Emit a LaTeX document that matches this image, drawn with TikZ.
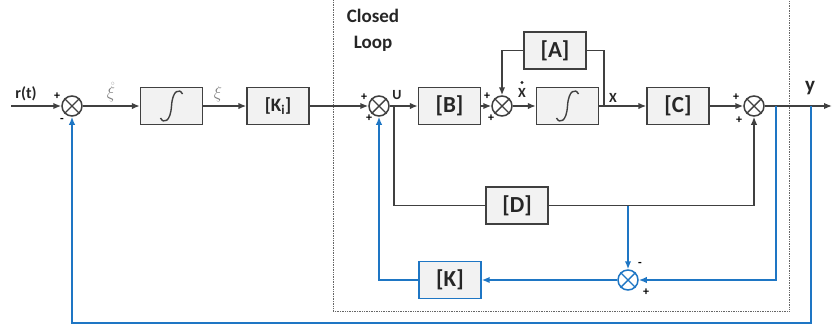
\documentclass[tikz,border=0pt]{standalone}
\usepackage{fontspec}
\setmainfont{Carlito}
\usetikzlibrary{arrows.meta,calc}
\definecolor{ln}{RGB}{64,64,64}
\definecolor{bx}{RGB}{242,242,242}
\definecolor{bl}{RGB}{30,118,196}
\definecolor{gr}{RGB}{128,128,128}
\begin{document}
\begin{tikzpicture}[x=1pt,y=-1pt,
  >={Latex[length=8pt,width=6.5pt]},
  blk/.style={draw=ln, fill=bx, line width=1.4pt, minimum width=62pt, minimum height=37pt, inner sep=0pt, font=\bfseries\fontsize{23}{25}\selectfont, text=black!85},
  sumn/.style={circle, draw=#1, line width=1.5pt, minimum size=20pt, inner sep=0pt, fill=white,
    append after command={(\tikzlastnode.north west) edge[draw=#1,line width=1.4pt] (\tikzlastnode.south east)
                          (\tikzlastnode.north east) edge[draw=#1,line width=1.4pt] (\tikzlastnode.south west)}},
  sumn/.default=ln,
  wire/.style={draw=ln, line width=1.5pt},
  bwire/.style={draw=bl, line width=2pt},
  sgn/.style={font=\bfseries\fontsize{12}{13}\selectfont, inner sep=0pt},
  lbl/.style={font=\bfseries\fontsize{14}{16}\selectfont, inner sep=0pt, text=black!85},
  ]
\useasboundingbox (0,0) rectangle (832,325);

% closed loop frame
\draw[densely dotted, ln!80, line width=0.7pt] (333,-5) rectangle (789,311);
\node[font=\bfseries\fontsize{19}{26}\selectfont, align=center, text=black!85] (cl) at (373,30) {Closed\\Loop};

% blocks
\node[sumn] (s1) at (72,106) {};
\node[blk] (i1) at (171.5,106) {};
\node[blk, font=\bfseries\fontsize{19}{21}\selectfont] (ki) at (278,106) {[K\textsubscript{i}]};
\node[sumn] (s2) at (379,106) {};
\node[blk] (b) at (449.5,106) {[B]};
\node[sumn] (s3) at (502,106) {};
\node[blk] (i2) at (567.5,106) {};
\node[blk] (a) at (555,50.5) {[A]};
\node[blk] (c) at (678,106) {[C]};
\node[sumn] (s4) at (754,106) {};
\node[blk] (d) at (517,205.5) {[D]};
\node[sumn=bl] (s5) at (628,280) {};
\node[blk, draw=bl] (k) at (450,280) {[K]};

% integral signs
\foreach \n in {i1,i2}
  \draw[ln, line width=1.4pt] ($(\n)+(-11,12)$) .. controls ($(\n)+(-8,18)$) and ($(\n)+(-1,16)$) .. ($(\n)$)
        .. controls ($(\n)+(1,-16)$) and ($(\n)+(8,-18)$) .. ($(\n)+(11,-12)$);

% coordinates
\coordinate (rin) at (11,106);
\coordinate (yout) at (832,106);
\coordinate (ub) at (394,106);
\coordinate (xb) at (604,106);
\coordinate (db) at (628,205.5);
\coordinate (yb1) at (776,106);
\coordinate (yb2) at (811,106);
\coordinate (bot) at (811,323);

% dark wires
\draw[wire,->] (rin) -- (s1);
\draw[wire,->] (s1) -- (i1);
\draw[wire,->] (i1) -- (ki);
\draw[wire,->] (ki) -- (s2);
\draw[wire,->] (s2) -- (b);
\draw[wire] (ub) |- (d.west);
\draw[wire,->] (d.east) -| (s4.south);
\draw[wire,->] (b) -- (s3);
\draw[wire,->] (s3) -- (i2);
\draw[wire,->] (i2) -- (c);
\draw[wire] (xb) |- (a.east);
\draw[wire,->] (a.west) -| (s3.north);
\draw[wire,->] (c) -- (s4);
\draw[wire,->] (s4) -- (yout);

% blue wires
\draw[bwire,->] (yb1) |- (s5.east);
\draw[bwire,->] (db) -- (s5.north);
\draw[bwire,->] (s5.west) -- (k.east);
\draw[bwire,->] (k.west) -| (s2.south);
\draw[bwire,->] (yb2) -- (bot) -| (s1.south);

% labels
\node[lbl, font=\bfseries\fontsize{16}{18}\selectfont] (rt) at (26,94) {r(t)};
\node[text=gr, font=\fontsize{18}{20}\selectfont, inner sep=0pt] (xid) at (111,92) {$\mathring{\xi}$};
\node[text=gr, font=\fontsize{18}{20}\selectfont, inner sep=0pt] (xi) at (218,94) {$\xi$};
\node[lbl] (u) at (397,95) {U};
\node[lbl] (xdot) at (522,93) {X};
\fill[black!85] (522,82.5) circle (1.7pt);
\node[lbl] (xl) at (613,98) {X};
\node[font=\bfseries\fontsize{21}{23}\selectfont, inner sep=0pt, text=black!85] (yl) at (810,88) {y};

% signs
\node[sgn] at (57,96) {+};
\node[sgn] at (62,120) {-};
\node[sgn] at (364,97) {+};
\node[sgn] at (369,118) {+};
\node[sgn] at (487,96) {+};
\node[sgn] at (491,118) {+};
\node[sgn] at (736,97) {+};
\node[sgn] at (739,120) {+};
\node[sgn] at (640,264) {-};
\node[sgn] at (646,292) {+};
\end{tikzpicture}
\end{document}
